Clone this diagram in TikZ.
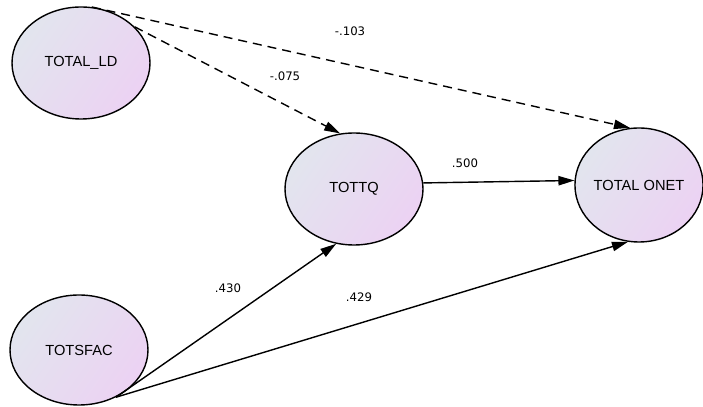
\documentclass[tikz,border=0pt]{standalone}
\usepackage{fontspec}
\setmainfont{Liberation Sans}
\newfontfamily\coeffont{DejaVu Sans}
\usepackage{tikz}
\usetikzlibrary{shapes.geometric,arrows.meta,positioning}
\definecolor{varblue}{RGB}{226,229,238}
\definecolor{varpink}{RGB}{236,210,243}

\begin{document}
\begin{tikzpicture}[line width=1.2pt,
    var/.style={ellipse,draw,inner sep=0pt,minimum width=4.14cm,minimum height=3.36cm,
        top color=varblue,bottom color=varpink,shading angle=55,font=\fontsize{12.5}{14}\selectfont},
    path/.style={-{Triangle[length=4.8mm,width=2.8mm]}},
    dpath/.style={path,dash pattern=on 2.7mm off 1.8mm},
    coef/.style={font=\coeffont\fontsize{10}{12}\selectfont}]
    \useasboundingbox (0,0) rectangle (21.09,12.21);

    % latent variables
    \node[var] (ld) at (2.43,10.32) {TOTAL\_LD};
    \node[var] (tq) at (10.62,6.54) {TOTTQ};
    \node[var,minimum width=3.84cm,minimum height=3.42cm] (onet) at (19.17,6.66) {TOTAL ONET};
    \node[var,minimum height=3.3cm] (sfac) at (2.37,1.71) {TOTSFAC};

    % paths with standardized weights
    \draw[dpath] (ld.79) -- (onet.99);
    \draw[dpath] (ld.34) -- (tq.104);
    \draw[path] (tq.5) -- (onet.176);
    \draw[path] (sfac.-52) -- (tq.-108);
    \draw[path] (sfac.-52) -- (onet.-101);

    \node[coef] (w1) at (10.50,11.28) {-.103};
    \node[coef] (w2) at (8.55,9.93) {-.075};
    \node[coef] (w3) at (13.95,7.32) {.500};
    \node[coef] (w4) at (6.84,3.57) {.430};
    \node[coef] (w5) at (10.77,3.30) {.429};
\end{tikzpicture}
\end{document}
